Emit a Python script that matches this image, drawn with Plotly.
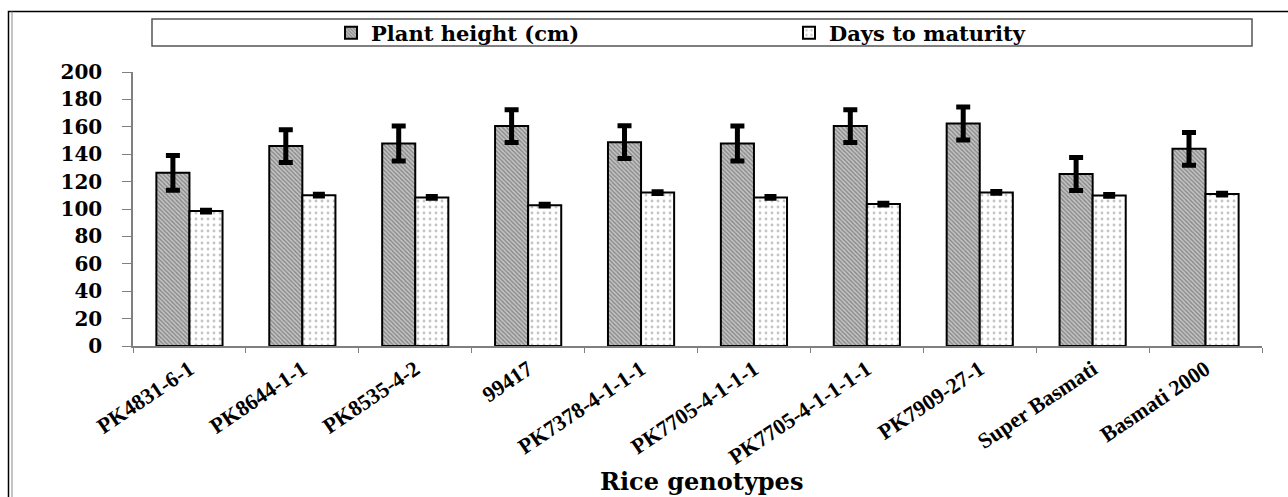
import plotly.graph_objects as go

categories = ["PK4831-6-1", "PK8644-1-1", "PK8535-4-2", "99417", "PK7378-4-1-1-1",
              "PK7705-4-1-1-1", "PK7705-4-1-1-1-1", "PK7909-27-1", "Super Basmati", "Basmati 2000"]
plant_height = [126.4, 145.9, 147.8, 160.5, 148.8, 147.8, 160.5, 162.4, 125.5, 143.9]
plant_height_err = [12.7, 12.0, 12.7, 12.0, 12.0, 12.7, 12.0, 12.0, 12.0, 12.0]
days_maturity = [98.5, 110.1, 108.4, 102.8, 112.0, 108.4, 103.6, 112.1, 109.9, 110.9]
days_maturity_err = [1, 1, 1, 1, 1, 1, 1, 1, 1, 1]
y_ticks = [0, 20, 40, 60, 80, 100, 120, 140, 160, 180, 200]

W, H = 1288, 497
L, R, T, B = 133, 26, 72, 151
PW, PH = W - L - R, H - T - B

def px_x(p):
    return (p - L) / PW

def px_y(p):
    return (H - B - p) / PH

fig = go.Figure()
fig.add_trace(go.Bar(
    name="Plant height (cm)", x=categories, y=plant_height,
    marker=dict(color="#bdbdbd",
                line=dict(color="black", width=2),
                pattern=dict(shape="\\", fgcolor="#4a4a4a", bgcolor="#c4c4c4",
                             size=3, solidity=0.45)),
    error_y=dict(type="data", array=plant_height_err, color="black",
                 thickness=5, width=7),
))
fig.add_trace(go.Bar(
    name="Days to maturity", x=categories, y=days_maturity,
    marker=dict(color="white",
                line=dict(color="black", width=2),
                pattern=dict(shape=".", fgcolor="#8a8a8a", bgcolor="white",
                             size=6, solidity=0.18)),
    error_y=dict(type="data", array=days_maturity_err, color="black",
                 thickness=4, width=6),
))

serif_bold = "DejaVu Serif, serif"

fig.update_layout(
    width=W, height=H,
    margin=dict(l=L, r=R, t=T, b=B, autoexpand=False),
    paper_bgcolor="white", plot_bgcolor="white",
    barmode="group", bargap=0.414, bargroupgap=0,
    showlegend=True,
    legend=dict(orientation="h", x=px_x(331), y=px_y(33), xanchor="left", yanchor="middle",
                bgcolor="rgba(0,0,0,0)", borderwidth=0,
                font=dict(family=serif_bold, size=21, color="black", weight="bold"),
                entrywidth=413, entrywidthmode="pixels", itemwidth=30,
                traceorder="normal"),
    xaxis=dict(type="category", showline=True, linecolor="#808080", linewidth=1.5,
               ticks="outside", tickson="boundaries", ticklen=5, tickcolor="#808080",
               tickangle=-34, showgrid=False, zeroline=False,
               tickfont=dict(family="Liberation Serif, serif", size=22, color="black", weight="bold")),
    yaxis=dict(range=[0, 200], tickvals=y_ticks, showline=True, linecolor="#808080", linewidth=1.5,
               ticks="outside", ticklen=9, tickcolor="#808080", showgrid=False, zeroline=False,
               ticklabelstandoff=16,
               tickfont=dict(family=serif_bold, size=20, color="black", weight="bold")),
    annotations=[dict(text="Rice genotypes", xref="paper", yref="paper",
                      x=px_x(701), y=px_y(481), xanchor="center", yanchor="middle", showarrow=False,
                      font=dict(family=serif_bold, size=24, color="black", weight="bold"))],
    shapes=[
        # legend frame
        dict(type="rect", xref="paper", yref="paper",
             x0=px_x(152), x1=px_x(1252), y0=px_y(46), y1=px_y(19),
             line=dict(color="#555555", width=1.5), fillcolor="rgba(0,0,0,0)"),
        # outer figure frame
        dict(type="rect", xref="paper", yref="paper",
             x0=px_x(8.5), x1=px_x(1300), y0=px_y(510), y1=px_y(11.5),
             line=dict(color="black", width=1.5), fillcolor="rgba(0,0,0,0)"),
        dict(type="line", xref="paper", yref="paper",
             x0=px_x(12), x1=px_x(12), y0=px_y(510), y1=px_y(11.5),
             line=dict(color="#888888", width=1)),
    ],
)

fig.write_html("out.html")
